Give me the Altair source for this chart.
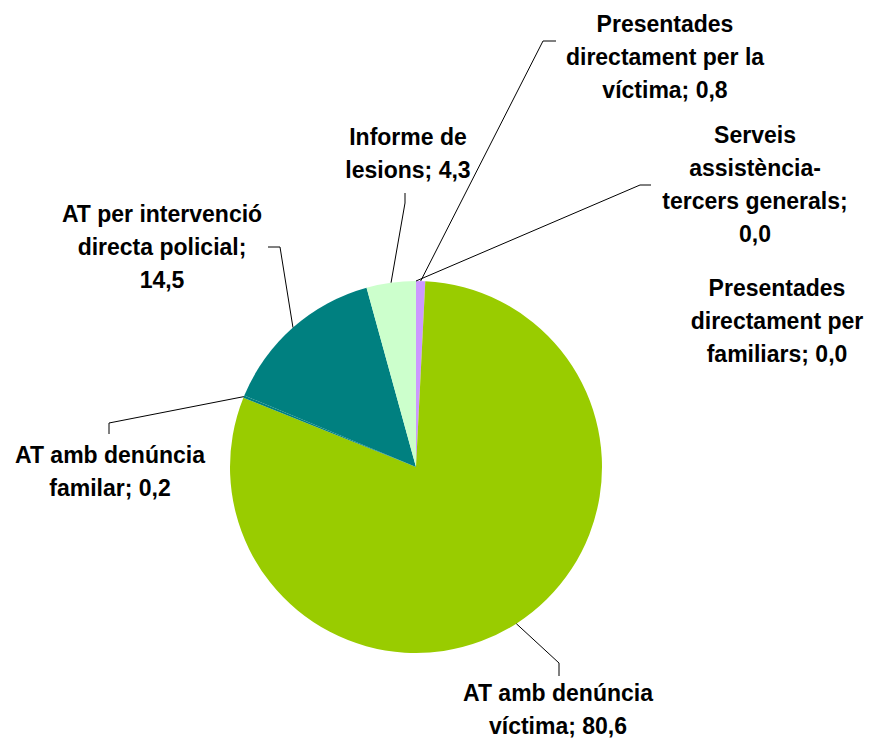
import math
import altair as alt
import pandas as pd

# ---- data ----
categories = [
    "Presentades directament per la víctima",
    "AT amb denúncia víctima",
    "AT amb denúncia familar",
    "AT per intervenció directa policial",
    "Informe de lesions",
    "Serveis assistència-tercers generals",
    "Presentades directament per familiars",
]
values = [0.8, 80.6, 0.2, 14.5, 4.3, 0.0, 0.0]
label_lines = [
    ["Presentades", "directament per la", "víctima; 0,8"],
    ["AT amb denúncia", "víctima; 80,6"],
    ["AT amb denúncia", "familar; 0,2"],
    ["AT per intervenció", "directa policial;", "14,5"],
    ["Informe de", "lesions; 4,3"],
    ["Serveis", "assistència-", "tercers generals;", "0,0"],
    ["Presentades", "directament per", "familiars; 0,0"],
]

# ---- styles / layout (page pixel coordinates) ----
colors = ["#CC99FF", "#99CC00", "#008080", "#008080", "#CCFFCC", "#FFFFFF", "#FFFFFF"]
CX, CY, R = 416, 467, 186
label_pos = [(665, 32), (558, 701), (110, 463), (162, 222), (408, 145), (755, 143), (777, 296)]
leader_tail = [
    [(543, 41), (556, 41)],
    [(559, 663), (559, 676)],
    [(109, 423), (109, 434)],
    [(280, 247), (268, 247)],
    [(405, 203), (405, 193)],
    [(640, 185), (651, 185)],
    None,
]

W, H = 856, 730
xs = alt.Scale(domain=[8, 8 + W], range=[0, W])
ys = alt.Scale(domain=[8, 8 + H], range=[0, H])

pie_df = pd.DataFrame({
    "cat": categories,
    "value": values,
    "idx": list(range(len(values))),
    "cx": [CX] * len(values),
    "cy": [CY] * len(values),
})

lab_df = pd.DataFrame({
    "text": label_lines,
    "x": [p[0] for p in label_pos],
    "y": [p[1] for p in label_pos],
})

total = sum(values)
rows = []
cum = 0.0
for i, v in enumerate(values):
    a0 = cum / total * 2 * math.pi
    a1 = (cum + v) / total * 2 * math.pi
    cum += v
    mid = (a0 + a1) / 2
    if leader_tail[i] is None:
        continue
    pts = [(CX + R * math.sin(mid), CY - R * math.cos(mid))] + leader_tail[i]
    for k, (px, py) in enumerate(pts):
        rows.append({"id": i, "ord": k, "x": px, "y": py})
line_df = pd.DataFrame(rows)

pie = alt.Chart(pie_df).mark_arc(radius=R, stroke=None).encode(
    theta=alt.Theta("value:Q", stack=True),
    order=alt.Order("idx:Q"),
    color=alt.Color("cat:N", scale=alt.Scale(domain=categories, range=colors), legend=None),
    x=alt.X("cx:Q", scale=xs, axis=None),
    y=alt.Y("cy:Q", scale=ys, axis=None),
)

leaders = alt.Chart(line_df).mark_line(color="black", strokeWidth=1).encode(
    x=alt.X("x:Q", scale=xs, axis=None),
    y=alt.Y("y:Q", scale=ys, axis=None),
    detail="id:N",
    order="ord:Q",
)

labels = alt.Chart(lab_df).mark_text(
    font="Liberation Sans", fontWeight="bold", fontSize=23, lineHeight=33,
    align="center", baseline="alphabetic", color="black",
).encode(
    x=alt.X("x:Q", scale=xs, axis=None),
    y=alt.Y("y:Q", scale=ys, axis=None),
    text="text",
)

chart = alt.layer(pie, leaders, labels).properties(
    width=W, height=H, padding=0, autosize=alt.AutoSizeParams(type="none"),
    background="white",
).configure_view(stroke=None)

chart.save("out.html", embed_options={"renderer": "svg", "actions": False})
